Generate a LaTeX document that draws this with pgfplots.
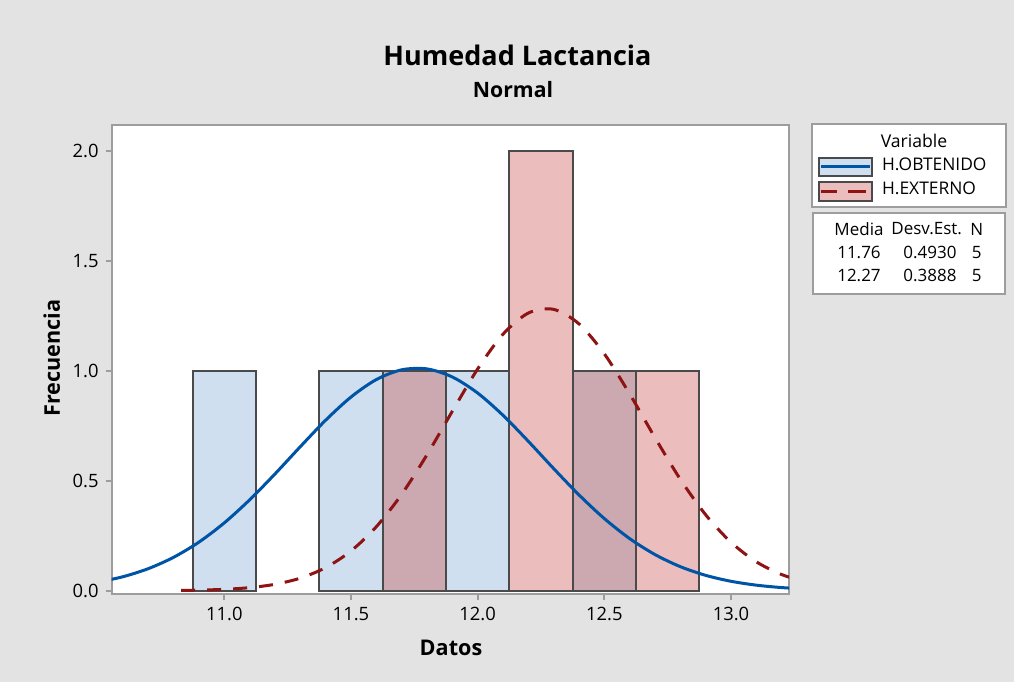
\documentclass[border=0pt]{standalone}
\usepackage{fontspec}
\setmainfont{Open Sans}
\usepackage{pgfplots}
\pgfplotsset{compat=1.18}
\definecolor{bgc}{HTML}{E3E3E3}
\definecolor{axgray}{HTML}{9D9D9D}
\definecolor{edgec}{HTML}{4A4A4A}
\definecolor{bluefill}{HTML}{CFDFF0}
\definecolor{redfill}{HTML}{EBBDBD}
\definecolor{overlap}{HTML}{CCA8B0}
\definecolor{blueline}{HTML}{0054A6}
\definecolor{redline}{HTML}{8E1313}
\begin{document}
\begin{tikzpicture}[x=1pt,y=1pt]
\fill[bgc] (0,0) rectangle (507,341);
\begin{axis}[at={(55.85pt,44pt)}, anchor=south west, scale only axis,
  width=338.65pt, height=234.75pt,
  xmin=10.5556, xmax=13.229, ymin=-0.015, ymax=2.119,
  axis background/.style={fill=white},
  axis line style={draw=axgray, line width=1pt},
  xtick={11,11.5,12,12.5,13}, ytick={0,0.5,1,1.5,2},
  tick align=outside, tick pos=left, major tick length=3pt,
  tick style={draw=axgray, line width=1pt},
  xticklabel={\pgfmathprintnumber[fixed,fixed zerofill,precision=1,assume math mode=true]{\tick}},
  yticklabel={\pgfmathprintnumber[fixed,fixed zerofill,precision=1,assume math mode=true]{\tick}},
  tick label style={font=\fontsize{9.2}{10}\selectfont, text=black},
]
\addplot[ybar, bar width=0.25, bar shift=0pt, fill=bluefill, draw=edgec, line width=1pt]
  coordinates {(11.0,1) (11.5,1) (12.0,1)};
\addplot[ybar, bar width=0.25, bar shift=0pt, fill=redfill, draw=edgec, line width=1pt]
  coordinates {(12.25,2) (12.75,1)};
\addplot[ybar, bar width=0.25, bar shift=0pt, fill=overlap, draw=edgec, line width=1pt]
  coordinates {(11.75,1) (12.5,1)};
\addplot[smooth, line width=1.5pt, color=blueline, mark=none] coordinates {
(10.5,0.0386) (10.6,0.0635) (10.7,0.1002) (10.8,0.1519) (10.9,0.2209) (11.0,0.3083)
(11.1,0.4129) (11.2,0.5306) (11.3,0.6545) (11.4,0.7748) (11.5,0.8802) (11.6,0.9596)
(11.7,1.0040) (11.8,1.0082) (11.9,0.9715) (12.0,0.8985) (12.1,0.7974) (12.2,0.6792)
(12.3,0.5552) (12.4,0.4355) (12.5,0.3279) (12.6,0.2369) (12.7,0.1643) (12.8,0.1093)
(12.9,0.0698) (13.0,0.0428) (13.1,0.0252) (13.2,0.0142) (13.3,0.0077)};
\addplot[smooth, line width=1.5pt, color=redline, mark=none, dash pattern=on 7pt off 6pt] coordinates {
(10.83,0.0013) (10.9,0.0026) (11.0,0.0062) (11.1,0.0139) (11.2,0.0291) (11.3,0.0571)
(11.4,0.1049) (11.5,0.1805) (11.6,0.2906) (11.7,0.4379) (11.8,0.6177) (11.9,0.8155)
(12.0,1.0078) (12.1,1.1657) (12.2,1.2620) (12.3,1.2788) (12.4,1.2129) (12.5,1.0767)
(12.6,0.8947) (12.7,0.6958) (12.8,0.5065) (12.9,0.3451) (13.0,0.2201) (13.1,0.1314)
(13.2,0.0734) (13.3,0.0384)};
\end{axis}
% titles and labels
\node[font=\bfseries\fontsize{13.5}{15}\selectfont] at (258.75,313.5) {Humedad Lactancia};
\node[font=\bfseries\fontsize{10.6}{12}\selectfont] at (256.5,296) {Normal};
\node[rotate=90, font=\bfseries\fontsize{10.8}{12}\selectfont] at (25.85,162) {Frecuencia};
\node[font=\bfseries\fontsize{10.8}{12}\selectfont] at (225.5,17) {Datos};
% legend box 1
\draw[axgray, line width=1pt, fill=white] (406,237.65) rectangle (502.85,279);
\draw[edgec, line width=1pt, fill=bluefill] (409.5,253) rectangle (436,262.15);
\draw[blueline, line width=1.5pt] (410.5,257.6) -- (435,257.6);
\draw[edgec, line width=1pt, fill=redfill] (409.5,240.65) rectangle (436,250);
\draw[redline, line width=1.5pt] (410.35,245.35) -- (418.35,245.35);
\draw[redline, line width=1.5pt] (424.15,245.35) -- (433,245.35);
\node[font=\fontsize{8.8}{10}\selectfont] at (457,270.5) {Variable};
\node[anchor=west, inner sep=0pt, font=\fontsize{8.7}{10}\selectfont] at (440.85,259) {H.OBTENIDO};
\node[anchor=west, inner sep=0pt, font=\fontsize{8.7}{10}\selectfont] at (440.85,246.85) {H.EXTERNO};
% legend box 2
\draw[axgray, line width=1pt, fill=white] (406.5,193.85) rectangle (502.5,234.65);
\begin{scope}[every node/.style={font=\fontsize{8.5}{10}\selectfont, inner sep=0pt}]
\node at (429.5,226.5) {Media};
\node at (463.35,226.5) {Desv.Est.};
\node at (488.35,226.5) {N};
\node at (429.5,214.65) {11.76};
\node at (465,214.65) {0.4930};
\node at (488.35,214.65) {5};
\node at (429.5,203.15) {12.27};
\node at (465,203.15) {0.3888};
\node at (488.35,203.15) {5};
\end{scope}
\end{tikzpicture}
\end{document}
